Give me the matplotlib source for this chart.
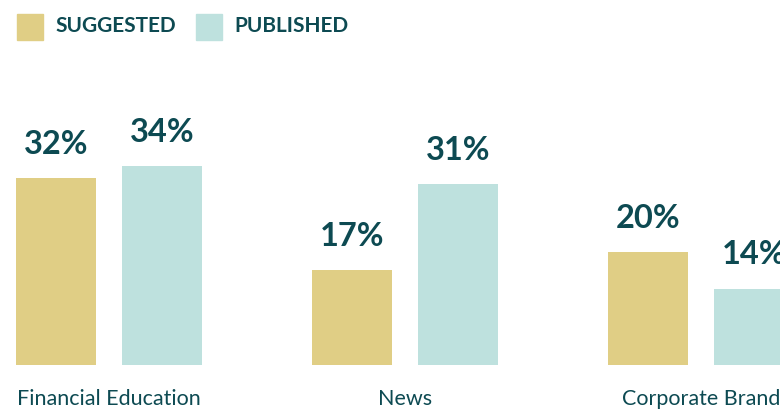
import matplotlib
matplotlib.use("Agg")
import matplotlib.pyplot as plt
from matplotlib.patches import Rectangle
import numpy as np

categories = ["Financial Education", "News", "Corporate Brand"]
suggested = [32, 17, 20]
published = [34, 31, 14]
series_names = ["SUGGESTED", "PUBLISHED"]

GOLD = "#E0CE85"
TEAL = "#BEE1DE"
DARK = "#0D4A52"

plt.rcParams['font.family'] = ['Lato', 'DejaVu Sans']

W, H = 780, 409
fig = plt.figure(figsize=(W/100, H/100), dpi=100)
ax_bottom = (H - 365) / H
ax_top = (H - 60) / H
ax = fig.add_axes([0, ax_bottom, 1, ax_top - ax_bottom])

x = np.arange(len(categories))
bw = 80/296
off = 53/296
b1 = ax.bar(x - off, suggested, width=bw, color=GOLD, bottom=0)
b2 = ax.bar(x + off, published, width=bw, color=TEAL, bottom=0)

ax.set_xlim(-109/296, (780-109)/296)
ax.set_ylim(1.6, 1.6 + 305/6.14)

for bars, vals in ((b1, suggested), (b2, published)):
    for r, v in zip(bars, vals):
        ax.annotate(f"{v}%", (r.get_x() + r.get_width()/2, v), xytext=(0, 14),
                    textcoords="offset points", ha="center", va="bottom",
                    fontsize=23.5, fontweight="bold", color=DARK)

ax.set_xticks(x)
ax.set_xticklabels(categories, fontsize=15.5, color=DARK)
ax.tick_params(axis='x', length=0, pad=17)
ax.set_yticks([])
for s in ax.spines.values():
    s.set_visible(False)

# legend
for (px, txt_x, name, col) in ((17, 55, series_names[0], GOLD), (196, 234, series_names[1], TEAL)):
    fig.patches.append(Rectangle((px/W, 1 - 40/H), 26/W, 26/H, transform=fig.transFigure,
                                 color=col, figure=fig))
    fig.text(txt_x/W, 1 - 26/H, name, fontsize=15, fontweight="bold", color=DARK,
             va="center", ha="left")

fig.savefig("out.png", dpi=100)
